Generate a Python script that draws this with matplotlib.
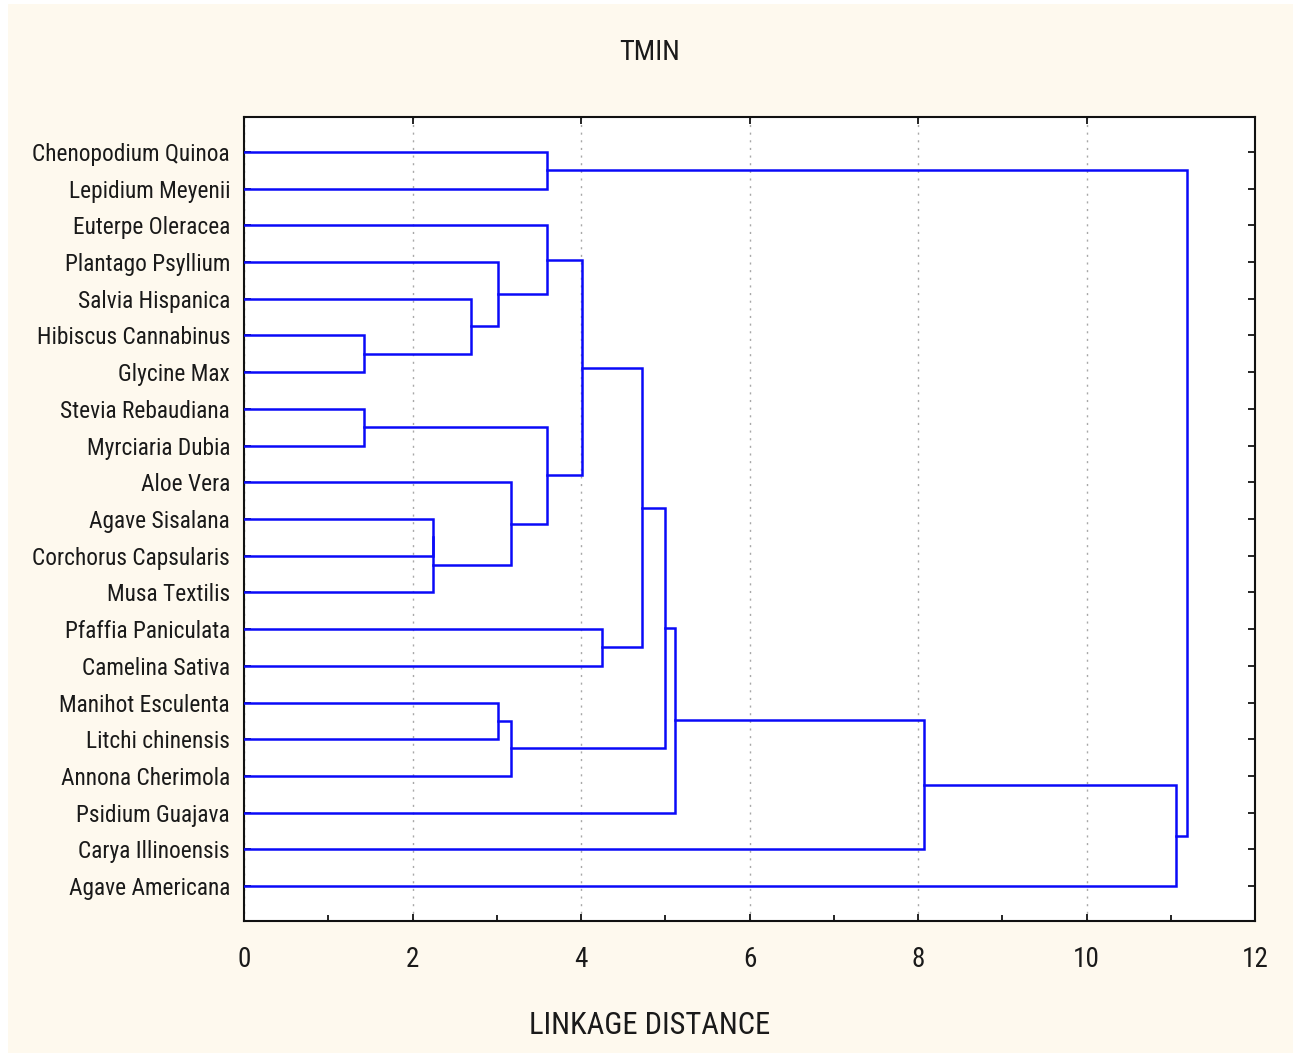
import matplotlib
matplotlib.use("Agg")
import matplotlib.pyplot as plt
from matplotlib.patches import Rectangle
from matplotlib.ticker import MultipleLocator

# ---- data ----
labels = ["Chenopodium Quinoa", "Lepidium Meyenii", "Euterpe Oleracea",
          "Plantago Psyllium", "Salvia Hispanica", "Hibiscus Cannabinus",
          "Glycine Max", "Stevia Rebaudiana", "Myrciaria Dubia", "Aloe Vera",
          "Agave Sisalana", "Corchorus Capsularis", "Musa Textilis",
          "Pfaffia Paniculata", "Camelina Sativa", "Manihot Esculenta",
          "Litchi chinensis", "Annona Cherimola", "Psidium Guajava",
          "Carya Illinoensis", "Agave Americana"]
# merges: new cluster ids start at len(labels)
merge_a = [5, 7, 10, 23, 4, 3, 15, 9, 27, 0, 2, 22, 31, 13, 33, 35, 36, 37, 38, 30]
merge_b = [6, 8, 11, 12, 21, 25, 16, 24, 17, 1, 26, 28, 32, 14, 34, 29, 18, 19, 20, 39]
merge_h = [1.42, 1.42, 2.24, 2.24, 2.69, 3.01, 3.01, 3.17, 3.17, 3.60, 3.60,
           3.60, 4.01, 4.25, 4.72, 5.00, 5.11, 8.07, 11.06, 11.19]
title = "TMIN"
xlabel = "LINKAGE DISTANCE"

FONT = ["Roboto Condensed", "Liberation Sans", "DejaVu Sans"]
plt.rcParams["font.family"] = FONT
TXT = "#1a1a1a"
LINE = "#0A0AF8"

fig = plt.figure(figsize=(12.96, 10.57), dpi=100)
fig.patch.set_facecolor("white")
fig.patches.append(Rectangle((8 / 1296, 4 / 1057), (1293 - 8) / 1296, (1049) / 1057,
                             transform=fig.transFigure, facecolor="#FEF9EE",
                             edgecolor="none", zorder=-10))

ax = fig.add_axes([244 / 1296, 1 - 921 / 1057, (1255 - 244) / 1296, (921 - 117) / 1057])
ax.set_facecolor("white")

n = len(labels)
pos = {i: i + 1 for i in range(n)}
hgt = {i: 0.0 for i in range(n)}
for k, (a, b, h) in enumerate(zip(merge_a, merge_b, merge_h)):
    cid = n + k
    ax.plot([hgt[a], h, h, hgt[b]], [pos[a], pos[a], pos[b], pos[b]],
            color=LINE, lw=1.8, solid_joinstyle="miter", zorder=3)
    pos[cid] = (pos[a] + pos[b]) / 2
    hgt[cid] = h

ax.set_xlim(0, 12)
ax.set_ylim(21.95, 0.05)
ax.xaxis.set_major_locator(MultipleLocator(2))
ax.xaxis.set_minor_locator(MultipleLocator(1))
ax.set_yticks(range(1, n + 1))
ax.set_yticklabels(labels)

ax.grid(axis="x", which="major", linestyle=(0, (1.5, 4)), color="#a8a8a8", lw=1.0, zorder=1)

ax.tick_params(axis="x", which="major", direction="in", length=5, width=1.2,
               top=True, bottom=True, pad=18, labelsize=19.5, labelcolor=TXT)
ax.tick_params(axis="x", which="minor", direction="in", length=4, width=1.2,
               top=False, bottom=True)
ax.tick_params(axis="y", which="major", direction="in", length=5, width=1.2,
               left=True, right=True, pad=10, labelsize=16.8, labelcolor=TXT)
for s in ax.spines.values():
    s.set_linewidth(1.5)
    s.set_color("#111111")

fig.text(650 / 1296, 1 - 52 / 1057, title, ha="center", va="center",
         fontsize=20.5, color=TXT)
fig.text(650 / 1296, 1 - 1025 / 1057, xlabel, ha="center", va="center",
         fontsize=22, color=TXT)

fig.savefig("out.png", dpi=100)
